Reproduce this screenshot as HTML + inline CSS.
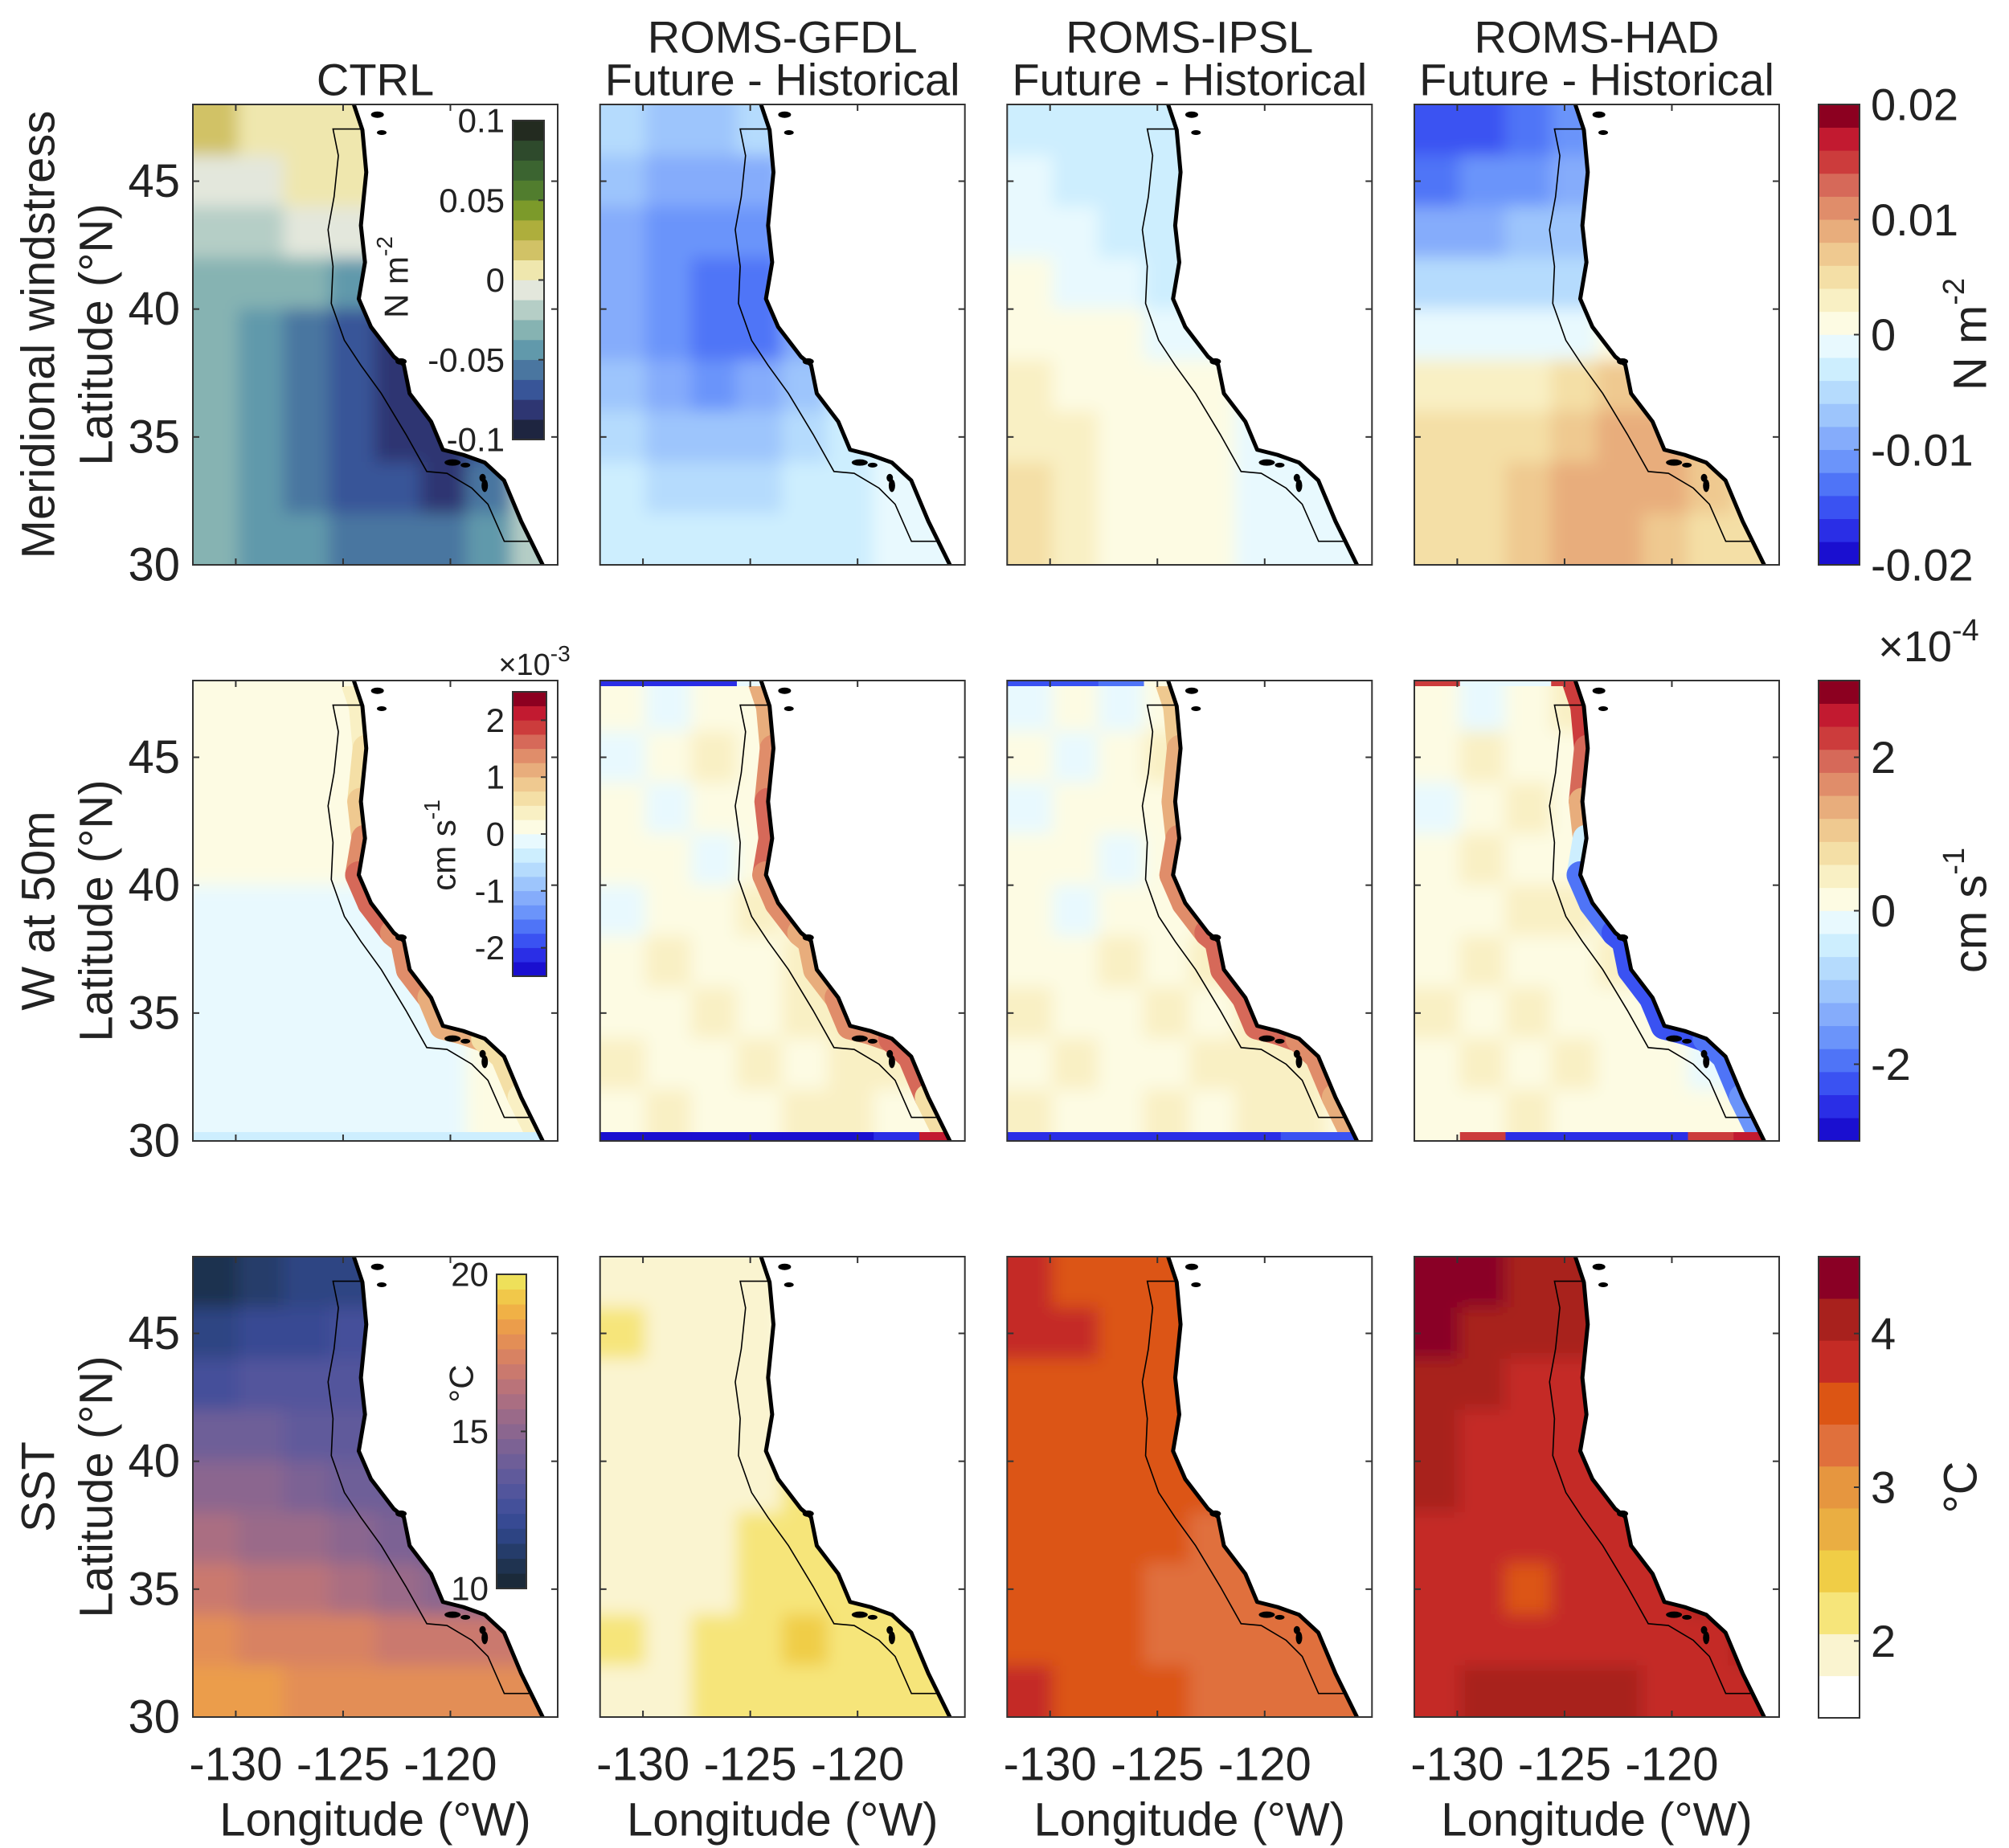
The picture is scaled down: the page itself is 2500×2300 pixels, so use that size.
<!DOCTYPE html>
<html><head><meta charset="utf-8"><style>
html,body{margin:0;padding:0;background:#fff;}
svg{display:block;font-family:"Liberation Sans",Arial,sans-serif;}
</style></head><body>
<svg id="fig" width="2500" height="2300" viewBox="0 0 2500 2300" xmlns="http://www.w3.org/2000/svg">
<defs>
<filter id="soft" filterUnits="userSpaceOnUse" x="0" y="0" width="2500" height="2300"><feGaussianBlur stdDeviation="10"/></filter>
</defs>
</svg>
<script>
// ===== data =====
const colTitles1 = ['', 'ROMS-GFDL', 'ROMS-IPSL', 'ROMS-HAD'];
const colTitles2 = ['CTRL', 'Future - Historical', 'Future - Historical', 'Future - Historical'];
const latTicks = [30, 35, 40, 45];
const lonTicks = [-130, -125, -120];

// colormaps
const WSC = ['#1e2540','#2e3672','#385598','#4a76a0','#6199ab','#86b3b2','#b5cec6','#e3e7dc','#efe7ae','#d1c266','#aeae3c','#7c9a2a','#517d2e','#3b6430','#2e4a2c','#232b20'];
const DIV = ['#1a0fd0','#2a2ee6','#3a52f2','#4f74f7','#6b94fa','#85acfb','#9dc5fc','#b5dbfd','#cdeefe','#e8f9fe','#fdfbe3','#f9f0c4','#f4dfa6','#efc990','#e8ad7c','#e08d6a','#d66959','#cc3c3c','#c21a30','#8c0020'];
const SSTC = ['#1b2a3a','#1f3350','#253c6a','#2d4483','#374a93','#44509a','#52559c','#605a9b','#6e5e98','#7c6294','#8b668f','#9a6a89','#aa6e82','#ba7379','#ca796e','#d88262','#e38e56','#eb9d4b','#f0b146','#f1c84a','#eee05a'];
const SSTD = ['#ffffff','#faf4d0','#f6e57a','#f0cd46','#eaae42','#e6963f','#e0703c','#dc5514','#c42b25','#a8211d','#8a0025'];

// fields: level indices, rows lat 48->30 (2 deg), cols lon -132 -> -115
const wsCtrl = [[9,8,8,8,8,9,9,9],[7,7,8,8,8,9,9,9],[6,6,7,7,7,6,8,8],[5,5,5,4,3,5,6,6],[5,4,3,2,1,2,5,5],[5,4,3,2,1,1,3,5],[5,4,3,2,1,1,2,5],[5,4,3,2,2,1,3,6],[5,4,4,3,3,3,4,6]];
const wsGfdl = [[7,6,6,7,8,8,8,8],[6,5,5,5,7,8,8,8],[5,4,4,4,6,7,8,8],[5,4,3,3,5,7,8,8],[5,4,3,3,5,7,8,8],[6,5,4,5,6,8,8,8],[7,6,6,6,7,8,9,9],[8,7,7,7,8,8,9,9],[8,8,8,8,8,8,9,9]];
const wsIpsl = [[8,8,8,8,8,9,9,9],[9,8,8,8,8,9,9,9],[9,9,8,8,8,9,9,9],[10,9,9,8,9,9,9,9],[10,10,10,9,9,9,9,9],[11,10,10,10,10,9,9,9],[11,11,10,10,10,9,9,9],[12,11,10,10,10,9,9,9],[12,11,10,10,10,9,9,9]];
const wsHad = [[2,2,3,4,6,8,8,8],[3,4,4,5,6,8,8,8],[5,5,6,6,7,8,8,8],[7,7,7,7,8,9,9,9],[9,9,9,9,10,11,11,10],[11,11,11,12,13,13,12,11],[12,12,12,13,14,14,13,12],[12,12,13,14,14,14,13,12],[12,12,13,14,14,13,12,12]];

const wCtrl = [[10,10,10,10,10,10,10,10],[10,10,10,10,10,10,10,10],[10,10,10,10,10,10,10,10],[10,10,10,10,10,10,10,10],[9,9,9,9,9,10,10,10],[9,9,9,9,9,9,10,10],[9,9,9,9,9,9,10,10],[9,9,9,9,9,9,10,10],[9,9,9,9,9,9,10,10]];
const wGfdl = [[10,9,10,10,9,10,10,10],[9,10,11,10,10,10,10,10],[10,9,10,10,11,10,10,10],[10,10,9,10,10,11,10,10],[9,10,10,11,10,11,10,10],[10,11,10,10,11,11,11,10],[10,10,11,10,11,11,11,10],[11,10,10,11,10,11,11,10],[10,11,10,10,11,11,10,10]];
const wIpsl = [[9,10,9,10,10,10,10,10],[10,9,10,11,10,10,10,10],[9,10,10,10,11,10,10,10],[10,10,9,10,11,11,10,10],[10,9,10,10,10,11,10,10],[10,10,11,10,11,11,11,10],[11,10,10,11,10,11,11,10],[10,11,10,10,11,11,11,10],[11,10,10,11,10,11,11,10]];
const wHad = [[10,9,10,11,9,10,10,10],[10,11,10,10,10,10,10,10],[9,10,11,10,11,10,10,10],[10,11,10,10,11,10,10,10],[10,10,11,11,10,9,10,10],[10,11,10,10,11,10,10,10],[11,10,11,10,10,10,9,10],[10,11,10,11,10,10,9,10],[10,10,11,10,10,10,10,10]];
// coastal band levels per lat row
const bandCtrl = [11,12,13,15,16,15,14,12,11];
const bandGfdl = [14,15,16,16,15,14,15,16,12];
const bandIpsl = [13,14,14,15,15,16,16,15,14];
const bandHad = [17,16,14,8,3,2,2,3,4];
// edge strip levels per column (bottom, top)
const botCtrl = [8,8,8,8,8,8,8,8];
const botGfdl = [0,0,0,0,0,0,1,18];
const botIpsl = [1,1,1,1,1,1,2,2];
const botHad = [10,17,1,1,1,1,17,18];
const topCtrl = [10,10,10,10,10,10,10,10];
const topGfdl = [1,1,1,9,10,10,10,10];
const topIpsl = [2,2,3,10,16,10,10,10];
const topHad = [17,9,9,17,10,10,10,10];

const sstCtrl = [[1,2,3,3,4,4,3,3],[3,4,4,5,5,5,4,4],[5,6,6,6,6,6,5,5],[8,8,7,7,7,6,6,6],[10,10,9,8,8,7,6,6],[12,11,11,10,9,8,7,7],[14,13,13,12,11,10,9,9],[16,15,15,15,14,14,14,14],[17,17,16,16,16,16,16,16]];
const sstGfdl = [[1,1,1,1,1,0,0,0],[2,1,1,1,0,1,1,1],[1,1,1,1,0,1,1,1],[1,1,1,1,1,1,1,1],[1,1,1,1,2,2,1,1],[1,1,1,2,2,2,2,2],[1,1,1,2,2,2,2,2],[2,1,2,2,3,2,2,2],[1,1,2,2,2,2,2,2]];
const sstIpsl = [[8,7,7,7,7,7,7,7],[8,8,7,7,7,7,7,7],[7,7,7,7,7,7,7,7],[7,7,7,7,7,7,7,7],[7,7,7,7,7,7,7,7],[7,7,7,7,6,6,6,6],[7,7,7,6,6,6,6,6],[7,7,7,6,6,6,6,6],[8,7,7,7,6,6,6,6]];
const sstHad = [[10,10,9,9,8,9,9,9],[10,9,9,9,8,8,8,8],[9,9,8,8,8,8,8,8],[9,8,8,8,8,8,8,8],[9,8,8,8,8,8,9,9],[8,8,8,8,8,8,9,9],[8,8,7,8,8,8,9,9],[8,8,8,8,8,8,8,9],[8,9,9,9,9,8,8,8]];

// colorbar ticks
const cb1Ticks = [-0.02,-0.01,0,0.01,0.02];
const cb1Labels = ['-0.02','-0.01','0','0.01','0.02'];
const cb2Ticks = [-2,0,2];
const cb2Labels = ['-2','0','2'];
const cb3Ticks = [2,3,4];
const cb3Labels = ['2','3','4'];
const in1Ticks = [-0.1,-0.05,0,0.05,0.1];
const in1Labels = ['-0.1','-0.05','0','0.05','0.1'];
const in2Ticks = [-2,-1,0,1,2];
const in2Labels = ['-2','-1','0','1','2'];
const in3Ticks = [10,15,20];
const in3Labels = ['10','15','20'];

// geography (coast outline)
const coast = [[-124.5,48],[-124.1,47],[-123.92,45.35],[-124.17,43.27],[-123.98,41.83],[-124.27,40.4],[-123.7,39.3],[-122.64,38.14],[-122.17,37.82],[-121.9,36.7],[-120.9,35.6],[-120.35,34.5],[-119.4,34.3],[-118.4,34.0],[-117.5,33.3],[-116.7,31.7],[-115.7,30]];
const shelf = [[-124.1,47.04],[-125.47,47.04],[-125.22,46.0],[-125.42,44.39],[-125.7,43.1],[-125.47,41.67],[-125.55,40.22],[-124.94,38.78],[-124.17,37.8],[-123.22,36.7],[-122.07,35.1],[-121.1,33.65],[-120.16,33.58],[-119.0,33.0],[-118.25,32.37],[-117.49,30.92],[-116.34,30.92]];
const islands = [[-123.4,47.6,8,4],[-123.2,46.9,6,3],[-122.3,37.95,7,4],[-119.9,34.0,10,4],[-119.3,33.9,6,3],[-118.4,33.1,4,8],[-118.5,33.4,4,5]];

// ===== layout =====
const svg = document.getElementById('fig');
const NS = 'http://www.w3.org/2000/svg';
const PX = [240, 746.7, 1253.3, 1760], PY = [130, 847, 1564], PW = 454, PH = 573;
const LON0 = -132, LON1 = -115, LAT0 = 30, LAT1 = 48;
function xS(c, lon){ return PX[c] + (lon - LON0) / (LON1 - LON0) * PW; }
function yS(r, lat){ return PY[r] + (LAT1 - lat) / (LAT1 - LAT0) * PH; }
function mk(tag, attrs, parent){
  const e = document.createElementNS(NS, tag);
  for (const k in attrs) e.setAttribute(k, attrs[k]);
  (parent || svg).appendChild(e);
  return e;
}
function txt(x, y, s, size, anchor, parent, rot){
  const t = mk('text', {x:x, y:y, 'font-size':size, 'text-anchor':anchor||'middle', fill:'#222', 'dominant-baseline':'central'}, parent);
  if (rot) t.setAttribute('transform', 'rotate(' + rot + ' ' + x + ' ' + y + ')');
  t.textContent = s;
  return t;
}

const fields = [[wsCtrl, wsGfdl, wsIpsl, wsHad],[wCtrl, wGfdl, wIpsl, wHad],[sstCtrl, sstGfdl, sstIpsl, sstHad]];
const cmaps = [[WSC, DIV, DIV, DIV],[DIV, DIV, DIV, DIV],[SSTC, SSTD, SSTD, SSTD]];
const bands = [bandCtrl, bandGfdl, bandIpsl, bandHad];
const bots = [botCtrl, botGfdl, botIpsl, botHad];
const tops = [topCtrl, topGfdl, topIpsl, topHad];
const EXT = 45;

for (let r = 0; r < 3; r++) {
  for (let c = 0; c < 4; c++) {
    const g = mk('g', {});
    
    
    const cid = 'clip' + r + c;
    const cp = mk('clipPath', {id: cid}, g);
    mk('rect', {x: PX[c], y: PY[r], width: PW, height: PH}, cp);
    const inner = mk('g', {'clip-path': 'url(#' + cid + ')'}, g);
    const fg = mk('g', {filter: 'url(#soft)'}, inner);
    const F = fields[r][c], M = cmaps[r][c];
    const nr = F.length, nc = F[0].length;
    for (let i = 0; i < nr; i++) for (let j = 0; j < nc; j++) {
      const la1 = LAT1 - i * (LAT1 - LAT0) / nr, la0 = LAT1 - (i+1) * (LAT1 - LAT0) / nr;
      const lo0 = LON0 + j * (LON1 - LON0) / nc, lo1 = LON0 + (j+1) * (LON1 - LON0) / nc;
      let x0 = xS(c, lo0), y0 = yS(r, la1), x1 = xS(c, lo1), y1 = yS(r, la0);
      if (j === 0) x0 -= EXT;
      if (j === nc - 1) x1 += EXT;
      if (i === 0) y0 -= EXT;
      if (i === nr - 1) y1 += EXT;
      const cell = mk('rect', {x: x0 - 0.5, y: y0 - 0.5, width: x1 - x0 + 1, height: y1 - y0 + 1, fill: M[F[i][j]]}, fg);
      
      
    }
    if (r === 1) {
      const bd = bands[c];
      for (let k = 0; k < coast.length - 1; k++) {
        const a = coast[k], b = coast[k+1];
        const li = Math.min(8, Math.max(0, Math.floor((LAT1 - (a[1]+b[1])/2) / 2)));
        const seg = mk('line', {x1: xS(c, a[0]), y1: yS(r, a[1]), x2: xS(c, b[0]), y2: yS(r, b[1]), stroke: DIV[bd[li]], 'stroke-width': 34, 'stroke-linecap': 'round'}, inner);
        
        
      }
      const bt = bots[c], tp = tops[c];
      for (let j = 0; j < bt.length; j++) {
        const lo0 = LON0 + j * (LON1 - LON0) / bt.length, lo1 = LON0 + (j+1) * (LON1 - LON0) / bt.length;
        const sb = mk('rect', {x: xS(c, lo0), y: PY[r] + PH - 11, width: xS(c, lo1) - xS(c, lo0) + 1, height: 11, fill: DIV[bt[j]]}, inner);
        
        
        const st = mk('rect', {x: xS(c, lo0), y: PY[r], width: xS(c, lo1) - xS(c, lo0) + 1, height: 7, fill: DIV[tp[j]]}, inner);
        
        
      }
    }
    // land
    let d = 'M' + coast.map(p => xS(c, p[0]).toFixed(1) + ',' + yS(r, p[1]).toFixed(1)).join(' L');
    d += ' L' + xS(c, -114) + ',' + yS(r, 29) + ' L' + xS(c, -114) + ',' + yS(r, 49) + ' L' + xS(c, -124.5) + ',' + yS(r, 49) + ' Z';
    const land = mk('path', {d: d, fill: '#fff'}, inner);
    
    
    const cl = mk('polyline', {points: coast.map(p => xS(c, p[0]) + ',' + yS(r, p[1])).join(' '), fill: 'none', stroke: '#000', 'stroke-width': 5, 'stroke-linejoin': 'round'}, inner);
    
    
    const sh = mk('polyline', {points: shelf.map(p => xS(c, p[0]) + ',' + yS(r, p[1])).join(' '), fill: 'none', stroke: '#000', 'stroke-width': 1.6}, inner);
    
    
    for (const isl of islands) {
      const ie = mk('ellipse', {cx: xS(c, isl[0]), cy: yS(r, isl[1]), rx: isl[2], ry: isl[3], fill: '#000'}, inner);
      
      
    }
    // frame + ticks
    const fr = mk('rect', {x: PX[c], y: PY[r], width: PW, height: PH, fill: 'none', stroke: '#333', 'stroke-width': 2}, g);
    
    
    for (const la of latTicks) {
      const y = yS(r, la);
      mk('line', {x1: PX[c], y1: y, x2: PX[c] + 8, y2: y, stroke: '#333', 'stroke-width': 2}, g);
      mk('line', {x1: PX[c] + PW, y1: y, x2: PX[c] + PW - 8, y2: y, stroke: '#333', 'stroke-width': 2}, g);
      if (c === 0) {
        const tl = txt(PX[c] - 16, y, String(la), 58, 'end', g);
        
        
      }
    }
    for (const lo of lonTicks) {
      const x = xS(c, lo);
      mk('line', {x1: x, y1: PY[r] + PH, x2: x, y2: PY[r] + PH - 8, stroke: '#333', 'stroke-width': 2}, g);
      mk('line', {x1: x, y1: PY[r], x2: x, y2: PY[r] + 8, stroke: '#333', 'stroke-width': 2}, g);
      if (r === 2) {
        const xl = txt(x, 2196, String(lo), 58, 'middle', g);
        
        
      }
    }
    if (r === 2) {
      const xt = txt(PX[c] + PW/2, 2265, 'Longitude (°W)', 58, 'middle', g);
      
      
    }
    if (r === 0) {
      if (colTitles1[c]) {
        const t1 = txt(PX[c] + PW/2, 46, colTitles1[c], 56, 'middle', g);
        
        
      }
      const t2 = txt(PX[c] + PW/2, 99, colTitles2[c], 56, 'middle', g);
      
      
    }
  }
}

// row labels
const rowNames = ['Meridional windstress', 'W at 50m', 'SST'];
for (let r = 0; r < 3; r++) {
  const cy = PY[r] + PH/2;
  const a = txt(48, cy, rowNames[r], 58, 'middle', null, -90);
  
  
  const b = txt(120, cy, 'Latitude (°N)', 58, 'middle', null, -90);
  
  
}

function colorbar(x, y, w, h, cols, vmin, vmax, ticks, labels, fs, side, name){
  const g = mk('g', {});
  
  
  const n = cols.length, bh = h / n;
  for (let i = 0; i < n; i++) {
    const b = mk('rect', {x: x, y: y + h - (i+1)*bh - 0.3, width: w, height: bh + 0.6, fill: cols[i]}, g);
    
    
  }
  mk('rect', {x: x, y: y, width: w, height: h, fill: 'none', stroke: '#333', 'stroke-width': 2}, g);
  for (let k = 0; k < ticks.length; k++) {
    const ty = y + h - (ticks[k] - vmin) / (vmax - vmin) * h;
    mk('line', {x1: x + w - 7, y1: ty, x2: x + w, y2: ty, stroke: '#333', 'stroke-width': 2}, g);
    const tl = side === 'right' ? txt(x + w + 14, ty, labels[k], fs, 'start', g) : txt(x - 10, ty, labels[k], fs, 'end', g);
    
    
  }
  return g;
}
colorbar(2263, 130, 51, 573, DIV, -0.02, 0.02, cb1Ticks, cb1Labels, 56, 'right', 'colorbar-windstress-diff');
colorbar(2263, 847, 51, 573, DIV, -3, 3, cb2Ticks, cb2Labels, 56, 'right', 'colorbar-w-diff');
colorbar(2263, 1564, 51, 574, SSTD, 1.5, 4.5, cb3Ticks, cb3Labels, 56, 'right', 'colorbar-sst-diff');
colorbar(638, 150, 39, 397, WSC, -0.1, 0.1, in1Ticks, in1Labels, 42, 'left', 'colorbar-windstress-ctrl');
colorbar(638, 861, 42, 354, DIV, -2.5, 2.5, in2Ticks, in2Labels, 42, 'left', 'colorbar-w-ctrl');
colorbar(618, 1586, 37, 391, SSTC, 10, 20, in3Ticks, in3Labels, 42, 'left', 'colorbar-sst-ctrl');

function unitLabel(x, y, html, fs, rot, name){
  const t = mk('text', {x: x, y: y, 'font-size': fs, 'text-anchor': 'middle', fill: '#222', 'dominant-baseline': 'central'});
  if (rot) t.setAttribute('transform', 'rotate(' + rot + ' ' + x + ' ' + y + ')');
  t.innerHTML = html;
  
  
}
unitLabel(2452, 416, 'N m<tspan dy="-20" font-size="38">-2</tspan>', 58, -90, 'colorbar-unit-windstress');
unitLabel(2452, 1133, 'cm s<tspan dy="-20" font-size="38">-1</tspan>', 58, -90, 'colorbar-unit-w');
unitLabel(2440, 1851, '°C', 58, -90, 'colorbar-unit-sst');
unitLabel(2400, 805, '×10<tspan dy="-20" font-size="38">-4</tspan>', 54, 0, 'colorbar-exponent-w');
unitLabel(493, 345, 'N m<tspan dy="-15" font-size="28">-2</tspan>', 42, -90, 'inset-unit-windstress');
unitLabel(552, 1052, 'cm s<tspan dy="-15" font-size="28">-1</tspan>', 42, -90, 'inset-unit-w');
unitLabel(665, 828, '×10<tspan dy="-15" font-size="28">-3</tspan>', 38, 0, 'inset-exponent-w');
unitLabel(574, 1722, '°C', 42, -90, 'inset-unit-sst');
</script>
</body></html>
